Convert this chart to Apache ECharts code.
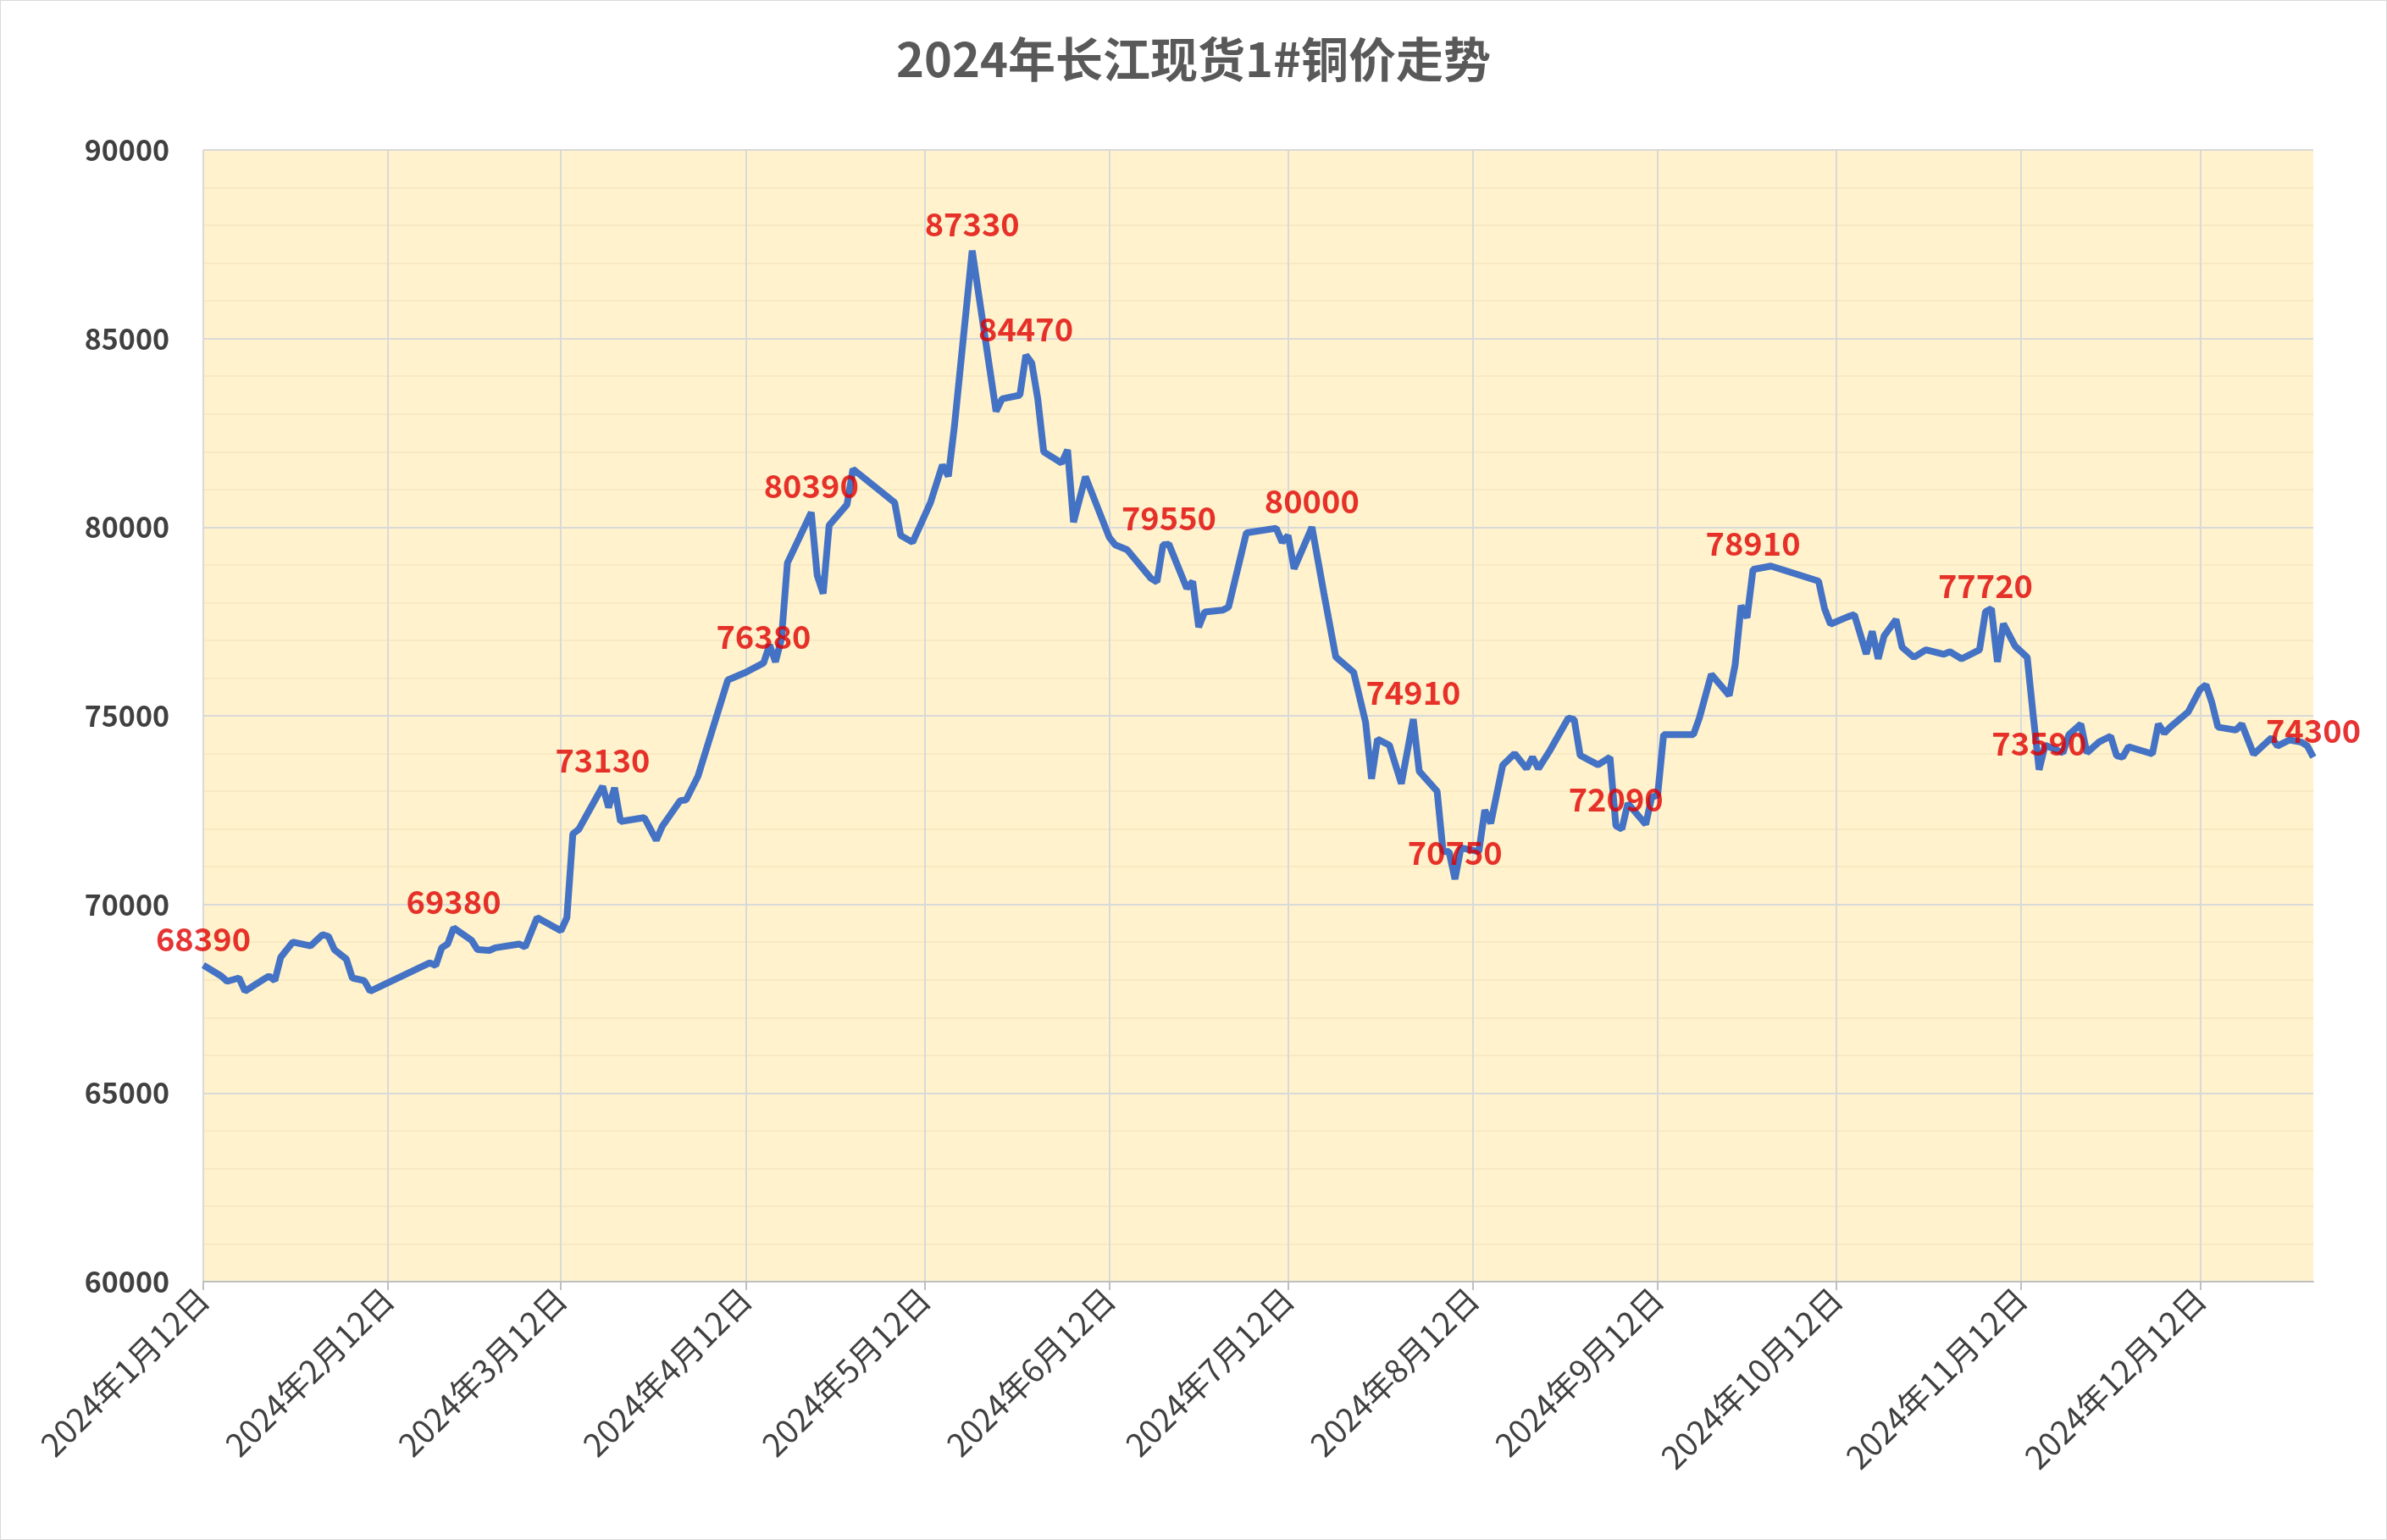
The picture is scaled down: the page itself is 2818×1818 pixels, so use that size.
<!DOCTYPE html>
<html><head><meta charset="utf-8">
<script src="https://cdn.jsdelivr.net/npm/echarts@6/dist/echarts.min.js"></script>
<style>html,body{margin:0;padding:0;background:#fff}#c{width:2816px;height:1816px;border:1px solid #D9D9D9}</style>
</head><body><div id="c"></div>
<script>
const titleText = '2024年长江现货1#铜价走势';
// trading day (day of year 2024) and price
const tradeDays = [12,15,16,18,19,22,23,24,25,27,30,32,33,34,36,37,39,40,50,51,52,53,54,57,58,60,61,65,66,68,72,73,74,75,79,80,81,82,86,88,89,92,93,95,100,103,106,107,108,109,110,114,115,116,117,120,121,128,129,131,134,136,137,138,141,145,146,149,150,151,152,153,156,157,158,160,164,165,167,171,172,173,174,177,178,179,180,183,184,187,192,193,194,195,198,200,202,205,207,208,209,211,213,215,216,219,220,221,222,223,226,227,228,230,232,234,235,236,238,241,242,243,246,248,249,250,251,254,255,256,257,262,263,265,268,269,270,271,272,275,283,284,285,288,289,291,292,293,294,296,297,299,301,304,305,307,310,311,312,313,314,316,318,319,320,321,324,325,327,328,330,332,333,334,335,339,340,341,342,345,347,348,349,350,353,354,356,359,360,362,364,365,366];
const prices = [68390,68100,67960,68050,67700,68000,68100,67980,68600,69000,68900,69200,69150,68800,68550,68050,67980,67700,68450,68380,68850,68950,69380,69050,68800,68780,68850,68950,68870,69650,69300,69650,71870,71990,73130,72570,73090,72200,72300,71700,72070,72750,72770,73400,75950,76150,76400,76880,76430,77040,79050,80390,78720,78240,80050,80600,81540,80650,79780,79600,80650,81650,81350,82650,87330,83070,83400,83500,84560,84350,83400,82000,81700,82050,80130,81340,79730,79530,79400,78640,78550,79530,79550,78380,78560,77350,77750,77800,77880,79850,79970,79600,79780,78900,80000,78250,76560,76150,74830,73330,74380,74220,73200,74910,73530,73000,71400,71400,70670,71500,71400,72500,72150,73690,74000,73600,73900,73600,74100,74940,74900,73950,73700,73900,72080,72000,72680,72120,72840,72900,74500,74500,74940,76100,75540,76350,77920,77600,78880,78970,78570,77840,77430,77630,77680,76640,77240,76510,77120,77550,76820,76550,76750,76630,76700,76510,76750,77760,77840,76430,77440,76840,76550,75020,73570,74220,74020,74500,74780,74020,74300,74460,73940,73900,74180,73990,74780,74540,74700,75100,75700,75820,75340,74700,74620,74780,73980,74420,74200,74360,74300,74200,73900];
// annotation labels
const noteDays = [12,54,79,106,114,141,150,174,198,215,222,249,272,311,320,366];
const noteValues = [68390,69380,73130,76400,80390,87330,84560,79550,80000,74910,70670,72080,78880,77760,73570,73900];
const noteTexts = ['68390','69380','73130','76380','80390','87330','84470','79550','80000','74910','70750','72090','78910','77720','73590','74300'];

const firstDay = 12, lastDay = 366;
function fmt(doy){const d=new Date(2024,0,doy);return d.getFullYear()+'年'+(d.getMonth()+1)+'月'+d.getDate()+'日';}
const cats=[]; for(let d=firstDay; d<=lastDay; d++) cats.push(fmt(d));
const lineData = cats.map(()=>null);
tradeDays.forEach((d,i)=>{lineData[d-firstDay]=prices[i];});
const noteData = noteDays.map((d,i)=>({value:[fmt(d),noteValues[i]],label:{formatter:noteTexts[i]}}));
const isTick = (idx)=> new Date(2024,0,idx+firstDay).getDate()===12;

const font='"Noto Sans CJK SC","Noto Sans",sans-serif';
const chart=echarts.init(document.getElementById('c'));
chart.setOption({
  backgroundColor:'#fff',
  animation:false,
  title:{text:titleText,left:'center',top:36,textStyle:{fontFamily:font,fontSize:56,fontWeight:'bold',color:'#595959'}},
  grid:{left:239,right:86,top:176,bottom:304,show:true,backgroundColor:'#FFF2CC',borderWidth:0},
  xAxis:{type:'category',data:cats,boundaryGap:false,
    axisLine:{lineStyle:{color:'#BFBFBF',width:2}},
    axisTick:{show:true,interval:(i)=>isTick(i),length:10,lineStyle:{color:'#BFBFBF',width:2}},
    splitLine:{show:true,interval:(i)=>isTick(i),lineStyle:{color:'#D9D9D9',width:2}},
    axisLabel:{interval:(i)=>isTick(i),rotate:45,fontFamily:font,fontSize:38,color:'#404040',margin:14}},
  yAxis:{type:'value',min:60000,max:90000,interval:5000,
    axisLine:{show:false},axisTick:{show:false},
    splitLine:{lineStyle:{color:'#D9D9D9',width:2}},
    minorTick:{show:false,splitNumber:5},
    minorSplitLine:{show:true,lineStyle:{color:'#F5E8C0',width:1.5}},
    axisLabel:{formatter:(v)=>String(v),fontFamily:font,fontSize:34,fontWeight:'bold',color:'#404040',margin:40}},
  series:[
    {type:'line',data:lineData,connectNulls:true,showSymbol:false,symbol:'none',
      lineStyle:{color:'#4472C4',width:8},z:3},
    {type:'scatter',data:noteData,symbolSize:0,z:5,
      label:{show:true,position:'top',distance:12,fontFamily:font,fontSize:38,fontWeight:'bold',color:'#E00000'}}
  ]
});
</script></body></html>
